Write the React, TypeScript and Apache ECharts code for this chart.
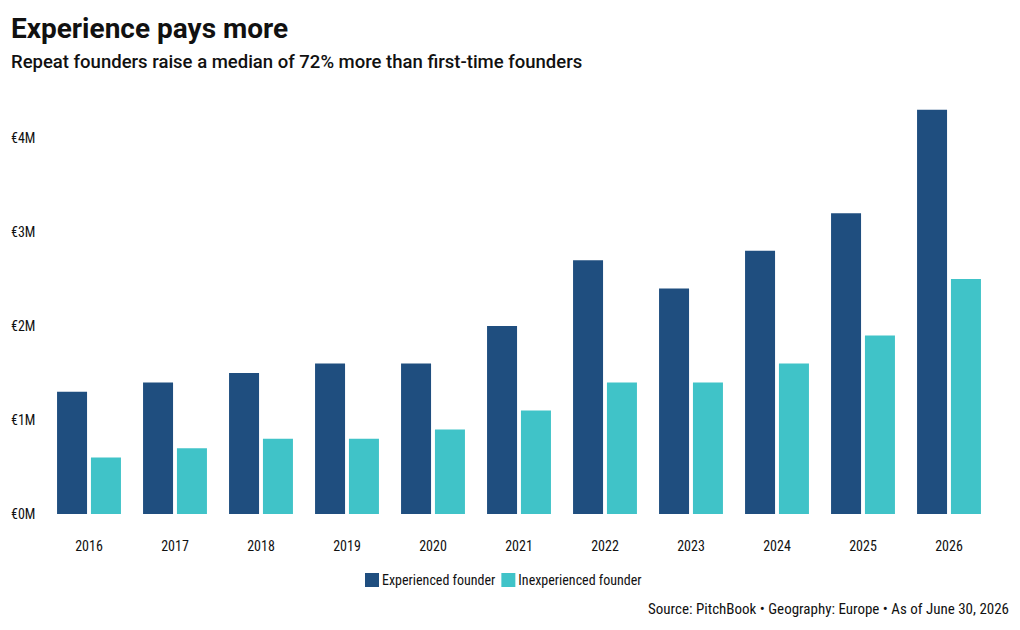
import React, { useEffect, useRef } from "react";
import * as echarts from "echarts";

const years = ["2016", "2017", "2018", "2019", "2020", "2021", "2022", "2023", "2024", "2025", "2026"];
const experienced = [1.3, 1.4, 1.5, 1.6, 1.6, 2.0, 2.7, 2.4, 2.8, 3.2, 4.3];
const inexperienced = [0.6, 0.7, 0.8, 0.8, 0.9, 1.1, 1.4, 1.4, 1.6, 1.9, 2.5];

const condensed = "'Roboto Condensed', 'Liberation Sans Narrow', 'Arial Narrow', Roboto, sans-serif";

export default function App() {
  const ref = useRef<HTMLDivElement>(null);

  useEffect(() => {
    if (!ref.current) return;
    const chart = echarts.init(ref.current, undefined, { renderer: "svg" });
    chart.setOption({
      animation: false,
      backgroundColor: "#ffffff",
      title: [
        {
          text: "Experience pays more",
          left: 11,
          top: 14,
          padding: 0,
          textStyle: { fontFamily: "Roboto", fontWeight: "bold", fontSize: 28, color: "#111111" },
        },
        {
          text: "Repeat founders raise a median of 72% more than first-time founders",
          left: 11,
          top: 52,
          padding: 0,
          textStyle: { fontFamily: "Roboto", fontWeight: 500, fontSize: 18.5, color: "#111111" },
        },
        {
          text: "Source: PitchBook • Geography: Europe • As of June 30, 2026",
          right: 11,
          top: 601,
          padding: 0,
          textStyle: { fontFamily: condensed, fontWeight: "normal", fontSize: 15, color: "#111111" },
        },
      ],
      legend: {
        bottom: 43,
        left: 365,
        padding: 0,
        itemWidth: 14,
        itemHeight: 14,
        itemGap: 6,
        icon: "rect",
        textStyle: { fontFamily: condensed, fontSize: 14, color: "#111111", padding: [0, 0, 0, -2] },
      },
      grid: { left: 46, right: 28, top: 100.4, bottom: 116 },
      xAxis: {
        type: "category",
        data: years,
        axisLine: { show: false },
        axisTick: { show: false },
        axisLabel: { margin: 25, fontFamily: condensed, fontSize: 14, color: "#111111" },
      },
      yAxis: {
        type: "value",
        min: 0,
        max: 4.4,
        interval: 1,
        splitLine: { show: false },
        axisLine: { show: false },
        axisTick: { show: false },
        axisLabel: {
          align: "left",
          margin: 35,
          fontFamily: condensed,
          fontSize: 14,
          color: "#111111",
          showMaxLabel: false,
          formatter: (v: number) => (Number.isInteger(v) ? `€${v}M` : ""),
        },
      },
      series: [
        {
          name: "Experienced founder",
          type: "bar",
          data: experienced,
          barWidth: 30,
          barGap: "13%",
          itemStyle: { color: "#1f4e7f" },
        },
        {
          name: "Inexperienced founder",
          type: "bar",
          data: inexperienced,
          barWidth: 30,
          itemStyle: { color: "#40c3c8" },
        },
      ],
    });
    return () => chart.dispose();
  }, []);

  return <div ref={ref} style={{ width: 1020, height: 630, position: "absolute", left: 0, top: 0 }} />;
}
